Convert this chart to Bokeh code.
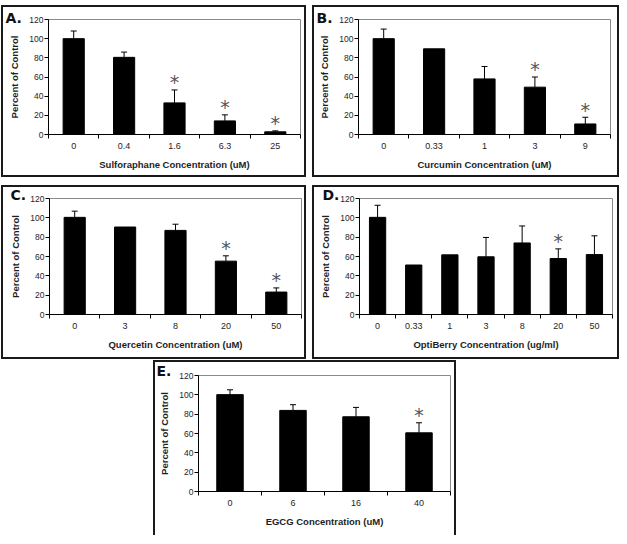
from bokeh.plotting import figure
from bokeh.models import (Range1d, FixedTicker, ColumnDataSource, Whisker, TeeHead,
                          Spacer, Column, Row)
from bokeh.core.properties import value
from bokeh.embed import file_html
from bokeh.resources import INLINE

# ---------------- data ----------------
A_cats = ["0", "0.4", "1.6", "6.3", "25"]
A_vals = [100, 80.5, 33, 14.2, 2.8]
A_errs = [8, 5.5, 13.5, 6.3, 1.0]
A_sig = [False, False, True, True, True]
A_xlabel = "Sulforaphane Concentration (uM)"

B_cats = ["0", "0.33", "1", "3", "9"]
B_vals = [100, 89.4, 58, 49.4, 11]
B_errs = [10, 0, 13, 10.6, 7]
B_sig = [False, False, False, True, True]
B_xlabel = "Curcumin Concentration (uM)"

C_cats = ["0", "3", "8", "20", "50"]
C_vals = [100.5, 90.5, 87, 55.2, 23.2]
C_errs = [6.4, 0, 6.4, 5.5, 4.3]
C_sig = [False, False, False, True, True]
C_xlabel = "Quercetin Concentration (uM)"

D_cats = ["0", "0.33", "1", "3", "8", "20", "50"]
D_vals = [100.5, 51.2, 61.7, 59.7, 74, 57.9, 62]
D_errs = [12.5, 0, 0, 20, 17.6, 10, 19.4]
D_sig = [False, False, False, False, False, True, False]
D_xlabel = "OptiBerry Concentration (ug/ml)"

E_cats = ["0", "6", "16", "40"]
E_vals = [100.2, 83.9, 77.3, 60.7]
E_errs = [5, 5.9, 9.7, 10.4]
E_sig = [False, False, False, True]
E_xlabel = "EGCG Concentration (uM)"

Y_TICKS = [0, 20, 40, 60, 80, 100, 120]
Y_LABEL = "Percent of Control"

FONT = "Liberation Sans"
BORDER = "2px solid #1a1a1a"


def panel(letter, cats, vals, errs, sig, xlabel, width, height, borders,
          bar_w=0.42, letter_dx=-42, letter_drop=-10, bottom_line=True):
    # width/height/borders are the outer sizes of the framed panel
    l, t, r, b = borders
    n = len(cats)
    fw = width - 4
    fh = height - 4 if bottom_line else height - 2
    p = figure(width=fw, height=fh, output_backend="svg", toolbar_location=None,
               x_range=Range1d(0, n), y_range=Range1d(0, 120),
               min_border_left=l - 2, min_border_top=t - 2, min_border_right=r - 2,
               min_border_bottom=b - (2 if bottom_line else 0),
               background_fill_color="white", border_fill_color="white")
    p.xgrid.grid_line_color = None
    p.ygrid.grid_line_color = None
    p.outline_line_color = "#8a8a8a"
    p.outline_line_width = 1

    xs = [i + 0.5 for i in range(n)]
    src = ColumnDataSource(dict(x=xs, top=vals))
    p.vbar(x="x", top="top", bottom=0, width=bar_w, source=src,
           fill_color="black", line_color="black")

    ex = [x for x, e in zip(xs, errs) if e > 0]
    elo = [v for v, e in zip(vals, errs) if e > 0]
    ehi = [v + e for v, e in zip(vals, errs) if e > 0]
    esrc = ColumnDataSource(dict(x=ex, lo=elo, hi=ehi))
    p.add_layout(Whisker(source=esrc, base="x", lower="lo", upper="hi", dimension="height",
                         line_color="black", line_width=1,
                         upper_head=TeeHead(size=6, line_color="black", line_width=1),
                         lower_head=None))

    sx = [x for x, s in zip(xs, sig) if s]
    sy = [v + e + 9 for v, e, s in zip(vals, errs, sig) if s]
    p.text(x=sx, y=sy, text=["*"] * len(sx), text_align="center", text_baseline="alphabetic",
           y_offset=1, text_font=value("DejaVu Sans"), text_font_size="19px",
           text_color="#555555")

    # x axis: labels at category centres, ticks at boundaries
    xa = p.xaxis[0]
    xa.ticker = FixedTicker(ticks=xs, minor_ticks=list(range(n + 1)))
    xa.major_label_overrides = {x: c for x, c in zip(xs, cats)}
    xa.minor_tick_line_color = "black"
    xa.minor_tick_out = 4
    xa.minor_tick_in = 0
    xa.major_label_standoff = 2
    xa.axis_label = xlabel
    xa.axis_label_standoff = 7

    ya = p.yaxis[0]
    ya.ticker = FixedTicker(ticks=Y_TICKS)
    ya.minor_tick_line_color = None
    ya.major_tick_out = 4
    ya.major_tick_in = 0
    ya.major_label_standoff = 1
    ya.axis_label = Y_LABEL
    ya.axis_label_standoff = 6

    for ax in (xa, ya):
        ax.axis_line_color = "black"
        ax.major_label_text_font = FONT
        ax.major_label_text_color = "#1e1e1e"
        ax.axis_label_text_font = FONT
        ax.axis_label_text_font_style = "bold"
        ax.axis_label_text_font_size = "9.5px"
        ax.axis_label_text_color = "#1e1e1e"
    xa.major_tick_line_color = None
    ya.major_tick_line_color = "black"
    xa.major_label_text_font_size = "9px"
    ya.major_label_text_font_size = "8.5px"

    # panel letter as the plot title, pulled left over the y axis
    p.title.text = letter
    p.title.align = "left"
    p.title.offset = letter_dx
    p.title.standoff = letter_drop
    p.title.vertical_align = "bottom"
    p.title.text_font = "DejaVu Sans"
    p.title.text_font_size = "14px"
    p.title.text_font_style = "bold"
    p.title.text_color = "#111111"

    st = {"border": BORDER}
    if not bottom_line:
        st["border-bottom"] = "none"
    return Column(children=[p], styles=st)


pA = panel("A.", A_cats, A_vals, A_errs, A_sig, A_xlabel, 305, 172, (47, 14, 6, 43),
           letter_dx=-43, letter_drop=-12)
pB = panel("B.", B_cats, B_vals, B_errs, B_sig, B_xlabel, 307, 172, (46, 14, 9, 43),
           letter_dx=-42, letter_drop=-12)
pC = panel("C.", C_cats, C_vals, C_errs, C_sig, C_xlabel, 305, 174, (48, 13, 5, 45),
           letter_dx=-39, letter_drop=-9)
pD = panel("D.", D_cats, D_vals, D_errs, D_sig, D_xlabel, 307, 174, (47, 13, 7, 45),
           bar_w=0.45, letter_dx=-37, letter_drop=-9)
pE = panel("E.", E_cats, E_vals, E_errs, E_sig, E_xlabel, 303, 175, (45, 15, 6, 44),
           letter_dx=-42, letter_drop=-7, bottom_line=False)

layout = Column(children=[
    Spacer(width=10, height=5),
    Row(children=[Spacer(width=1, height=10), pA, Spacer(width=6, height=10), pB]),
    Spacer(width=10, height=8),
    Row(children=[Spacer(width=1, height=10), pC, Spacer(width=6, height=10), pD]),
    Spacer(width=10, height=1),
    Row(children=[Spacer(width=153, height=10), pE]),
])

open("out.html", "w").write(file_html(layout, INLINE))
